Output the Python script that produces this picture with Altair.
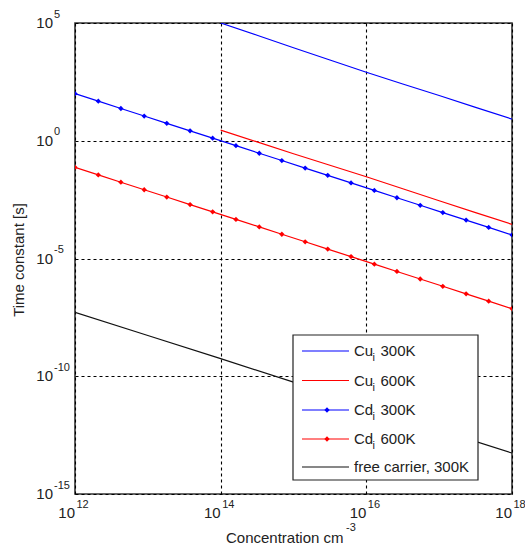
import altair as alt
import pandas as pd

# ---- data (log10 exponents) ----
cd_x_exp = [12.0, 12.32, 12.63, 12.95, 13.26, 13.58, 13.89, 14.21, 14.53, 14.84,
            15.16, 15.47, 15.79, 16.11, 16.42, 16.74, 17.05, 17.37, 17.68, 18.0]
cd300_exp = [2.0, 1.68, 1.37, 1.05, 0.74, 0.42, 0.11, -0.21, -0.53, -0.84,
             -1.16, -1.47, -1.79, -2.11, -2.42, -2.74, -3.05, -3.37, -3.68, -4.0]
cd600_exp = [-1.13, -1.45, -1.76, -2.08, -2.39, -2.71, -3.02, -3.34, -3.66, -3.97,
             -4.29, -4.60, -4.92, -5.24, -5.55, -5.87, -6.18, -6.50, -6.81, -7.13]
cu_x_exp = [14.0, 14.5, 15.0, 15.5, 16.0, 16.5, 17.0, 17.5, 18.0]
cu300_exp = [5.0, 4.48, 3.95, 3.43, 2.91, 2.41, 1.92, 1.42, 0.92]
cu600_exp = [0.45, -0.05, -0.55, -1.04, -1.53, -2.04, -2.55, -3.05, -3.55]
fc_x_exp = [12.0, 13.0, 14.0, 15.0, 16.0, 17.0, 18.0]
fc_exp = [-7.29, -8.27, -9.25, -10.25, -11.25, -12.28, -13.26]

series_names = ["Cu_i 300K", "Cu_i 600K", "Cd_i 300K", "Cd_i 600K", "free carrier, 300K"]
series_colors = ["#0000FF", "#FF0000", "#0000FF", "#FF0000", "#111111"]

x_ticks = [1e12, 1e14, 1e16, 1e18]
x_tick_exp = ["12", "14", "16", "18"]
y_ticks = [1e-15, 1e-10, 1e-5, 1e0, 1e5]
y_tick_exp = ["-15", "-10", "-5", "0", "5"]

FONT = "Liberation Sans"
W, H = 437, 471

rows = []
for name, xs, ys in [
    (series_names[0], cu_x_exp, cu300_exp),
    (series_names[1], cu_x_exp, cu600_exp),
    (series_names[2], cd_x_exp, cd300_exp),
    (series_names[3], cd_x_exp, cd600_exp),
    (series_names[4], fc_x_exp, fc_exp),
]:
    for i, (a, b) in enumerate(zip(xs, ys)):
        rows.append({"series": name, "x": 10 ** a, "y": 10 ** b, "i": i})
df = pd.DataFrame(rows)

xscale = alt.Scale(type="log", domain=[1e12, 1e18], nice=False)
yscale = alt.Scale(type="log", domain=[1e-15, 1e5], nice=False)
xaxis = alt.Axis(values=x_ticks, labels=False, ticks=False, domain=False, title=None,
                 grid=True, gridDash=[3, 3], gridColor="#000000", gridWidth=1.1, gridOpacity=1)
yaxis = alt.Axis(values=y_ticks, labels=False, ticks=False, domain=False, title=None,
                 grid=True, gridDash=[3, 3], gridColor="#000000", gridWidth=1.1, gridOpacity=1)
cscale = alt.Scale(domain=series_names, range=series_colors)

lines = alt.Chart(df).mark_line(strokeWidth=1.2, clip=True).encode(
    x=alt.X("x:Q", scale=xscale, axis=xaxis),
    y=alt.Y("y:Q", scale=yscale, axis=yaxis),
    color=alt.Color("series:N", scale=cscale, legend=None),
    detail="series:N",
    order="i:Q",
)
points = alt.Chart(df).transform_filter(
    alt.FieldOneOfPredicate(field="series", oneOf=[series_names[2], series_names[3]])
).mark_point(shape="diamond", filled=True, size=28, opacity=1, clip=True).encode(
    x="x:Q", y="y:Q",
    color=alt.Color("series:N", scale=cscale, legend=None),
)

# tick labels as 10 + superscript exponent
xt = pd.DataFrame({"x": x_ticks, "e": x_tick_exp})
x_base = alt.Chart(xt).mark_text(text="10", font=FONT, fontSize=15, align="right",
                                 baseline="middle", color="#222").encode(
    x="x:Q", y=alt.value(H + 19))
x_sup = alt.Chart(xt).mark_text(font=FONT, fontSize=11, align="left", dx=1.5,
                                baseline="middle", color="#222").encode(
    x="x:Q", y=alt.value(H + 10.5), text="e:N")
yt = pd.DataFrame({"y": y_ticks, "e": y_tick_exp})
y_base = alt.Chart(yt).mark_text(text="10", font=FONT, fontSize=15, align="right",
                                 baseline="middle", color="#222").encode(
    x=alt.value(-22), y="y:Q")
y_sup = alt.Chart(yt).mark_text(font=FONT, fontSize=11, align="left", dy=-8.5,
                                baseline="middle", color="#222").encode(
    x=alt.value(-21), y="y:Q", text="e:N")

one = pd.DataFrame({"a": [0]})
x_title = alt.Chart(one).mark_text(text="Concentration cm", font=FONT, fontSize=15,
                                   align="left", baseline="middle", color="#222").encode(
    x=alt.value(151), y=alt.value(515))
x_title_sup = alt.Chart(one).mark_text(text="-3", font=FONT, fontSize=11,
                                       align="left", baseline="middle", color="#222").encode(
    x=alt.value(271), y=alt.value(505))
y_title = alt.Chart(one).mark_text(text="Time constant [s]", font=FONT, fontSize=15,
                                   angle=270, align="center", baseline="middle",
                                   color="#222").encode(
    x=alt.value(-56), y=alt.value(237))

# legend box
legend_layers = [
    alt.Chart(one).mark_rect(fill="white", stroke="#222", strokeWidth=1.2).encode(
        x=alt.value(218), x2=alt.value(403), y=alt.value(312), y2=alt.value(457))
]
legend_rows = [
    ("Cu", "300K", series_colors[0], False, 328),
    ("Cu", "600K", series_colors[1], False, 357.5),
    ("Cd", "300K", series_colors[2], True, 387),
    ("Cd", "600K", series_colors[3], True, 416),
    (None, "free carrier, 300K", series_colors[4], False, 444),
]
for elem, rest, col, mk, yy in legend_rows:
    legend_layers.append(alt.Chart(one).mark_rule(color=col, strokeWidth=1.2).encode(
        x=alt.value(227), x2=alt.value(274), y=alt.value(yy)))
    if mk:
        legend_layers.append(alt.Chart(one).mark_point(
            shape="diamond", filled=True, size=28, opacity=1, color=col).encode(
            x=alt.value(252), y=alt.value(yy)))
    if elem:
        legend_layers.append(alt.Chart(one).mark_text(
            text=elem, font=FONT, fontSize=15, align="left", baseline="middle",
            color="#222").encode(x=alt.value(279), y=alt.value(yy)))
        legend_layers.append(alt.Chart(one).mark_text(
            text="i", font=FONT, fontSize=11, align="left", baseline="middle",
            color="#222").encode(x=alt.value(297.5), y=alt.value(yy + 7)))
        legend_layers.append(alt.Chart(one).mark_text(
            text=rest, font=FONT, fontSize=15, align="left", baseline="middle",
            color="#222").encode(x=alt.value(305.5), y=alt.value(yy)))
    else:
        legend_layers.append(alt.Chart(one).mark_text(
            text=rest, font=FONT, fontSize=15, align="left", baseline="middle",
            color="#222").encode(x=alt.value(279), y=alt.value(yy)))

chart = alt.layer(
    lines, points, x_base, x_sup, y_base, y_sup, x_title, x_title_sup, y_title,
    *legend_layers
).properties(
    width=W, height=H,
    autosize=alt.AutoSizeParams(type="none"),
    padding={"left": 75, "top": 23, "right": 13, "bottom": 56},
    background="white",
).configure_view(stroke="#333333", strokeWidth=1.6)

chart.save("out.html", embed_options={"renderer": "svg", "actions": False})
